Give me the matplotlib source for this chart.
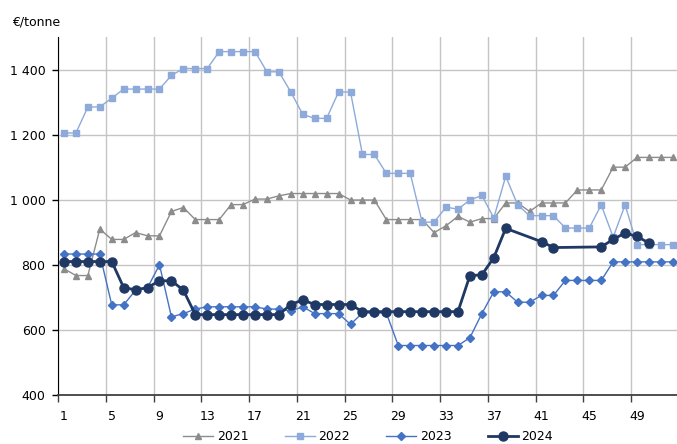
import numpy as np
import matplotlib
matplotlib.use('Agg')
import matplotlib.pyplot as plt
from matplotlib.ticker import FixedLocator, FuncFormatter

nan = np.nan

# weekly prices, €/tonne
weeks = np.arange(1, 53)

y2021 = [788, 767, 767, 910, 878, 878, 899, 889, 889, 964,
         976, 939, 939, 939, 985, 985, 1002, 1002, 1012, 1019,
         1019, 1019, 1019, 1019, 999, 999, 999, 939, 939, 939,
         939, 899, 920, 949, 931, 942, 942, 990, 990, 964,
         990, 990, 990, 1030, 1030, 1030, 1100, 1100, 1130, 1130,
         1130, 1130]

y2022 = [1205, 1205, 1285, 1285, 1312, 1340, 1340, 1340, 1340, 1382,
         1403, 1403, 1403, 1455, 1455, 1455, 1455, 1393, 1393, 1331,
         1262, 1250, 1250, 1331, 1331, 1139, 1139, 1081, 1081, 1081,
         931, 931, 977, 971, 999, 1013, 944, 1072, 984, 951,
         951, 951, 913, 913, 913, 984, 885, 984, 862, 862,
         862, 862]

y2023 = [833, 833, 833, 833, 677, 677, 722, 730, 800, 640,
         650, 664, 671, 671, 671, 671, 671, 664, 664, 658,
         671, 650, 650, 650, 617, 652, 652, 652, 552, 552,
         552, 552, 552, 552, 576, 650, 717, 717, 685, 685,
         706, 706, 752, 752, 752, 752, 809, 809, 809, 809,
         809, 809]

y2024 = [810, 810, 810, 810, 810, 730, 723, 730, 751, 751,
         722, 647, 647, 647, 647, 647, 647, 647, 647, 678,
         692, 678, 678, 678, 678, 656, 656, 656, 656, 656,
         656, 656, 656, 656, 767, 769, 822, 912, nan, nan,
         871, 853, nan, nan, nan, 855, 878, 898, 887, 867,
         nan, nan]

series = [
    ('2021', y2021, '#8c8c8c', '^', 4.0, 1.0),
    ('2022', y2022, '#8eaadb', 's', 3.8, 1.0),
    ('2023', y2023, '#4472c4', 'D', 3.6, 1.0),
    ('2024', y2024, '#1f3864', 'o', 6.5, 2.0),
]

fig = plt.figure(figsize=(6.77, 4.44), dpi=100)
ax = fig.add_axes([0.0857, 0.1104, 0.917, 0.8063])

for name, vals, col, mk, ms, lw in series:
    v = np.array(vals, dtype=float)
    ok = ~np.isnan(v)
    ax.plot(weeks[ok], v[ok], color=col, marker=mk, markersize=ms,
            linewidth=lw, label=name)

ax.set_xlim(0.5, 52.5)
ax.set_ylim(400, 1500)

# category boundaries carry the ticks/gridlines, labels sit on the weeks
ax.xaxis.set_major_locator(FixedLocator(np.arange(0.5, 53, 4)))
ax.xaxis.set_major_formatter(FuncFormatter(lambda x, p: ''))
ax.xaxis.set_minor_locator(FixedLocator(np.arange(1, 53, 4)))
ax.xaxis.set_minor_formatter(FuncFormatter(lambda x, p: '%d' % x))
ax.tick_params(axis='x', which='minor', length=0, labelsize=9, pad=11)
ax.tick_params(axis='x', which='major', length=5, width=1, color='#404040')

ax.set_yticks(np.arange(400, 1401, 200))
ax.yaxis.set_major_formatter(FuncFormatter(lambda y, p: '{:,}'.format(int(y)).replace(',', ' ')))
ax.tick_params(axis='y', length=4, width=1, labelsize=9, pad=5)

ax.grid(True, axis='both', which='major', color='#c4c4c4', linewidth=1)
ax.set_axisbelow(True)

for s in ['top', 'right']:
    ax.spines[s].set_visible(False)
ax.spines['left'].set_color('black')
ax.spines['bottom'].set_color('#404040')
ax.spines['bottom'].set_linewidth(1.3)

fig.text(0.018, 0.95, '€/tonne', fontsize=9, va='center', ha='left')

fig.legend(loc='center', bbox_to_anchor=(0.5436, 0.016), ncol=4, frameon=False,
           fontsize=9, handlelength=2.4, handletextpad=0.3, columnspacing=2.9)

fig.savefig('out.png', dpi=100)
